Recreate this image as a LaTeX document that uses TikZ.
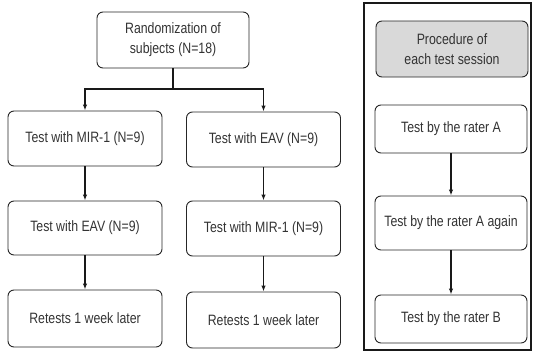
\documentclass[tikz,border=0pt]{standalone}
\usepackage{fontspec}
\setmainfont[FakeStretch=0.82]{Liberation Sans}
\usetikzlibrary{arrows.meta}
\begin{document}
\begin{tikzpicture}[x=1pt,y=-1pt,
  box/.style={draw=black!85,line width=0.9pt,rounded corners=6pt,minimum width=154pt,
    align=center,font=\fontsize{15}{20}\selectfont,text=black!80,inner sep=2pt},
  pbox/.style={box,minimum width=152pt},
  conn/.style={line width=1.8pt,black!90},
  arr/.style={conn,-{Latex[length=6pt,width=4.5pt]}},
  frame/.style={line width=1.6pt,black!90}]
\useasboundingbox (0,0) rectangle (533,359);
% left flow
\node[box,minimum width=152pt,minimum height=56pt] (top) at (173,40) {Randomization of\\subjects (N=18)};
\node[box,minimum height=55pt] (l1) at (85,138.5) {Test with MIR-1 (N=9)};
\node[box,minimum height=54pt] (l2) at (85,228) {Test with EAV (N=9)};
\node[box,minimum height=57pt] (l3) at (85,318.5) {Retests 1 week later};
\node[box,minimum height=55pt] (r1) at (263.5,139.5) {Test with EAV (N=9)};
\node[box,minimum height=55pt] (r2) at (263.5,228.5) {Test with MIR-1 (N=9)};
\node[box,minimum height=56pt] (r3) at (263.5,320) {Retests 1 week later};
\coordinate (j) at (173,89);
\draw[conn] (top.south) -- (j);
\draw[arr] (j) -| (l1.north);
\draw[arr] (j) -| (r1.north);
\draw[arr] (l1) -- (l2);
\draw[arr] (l2) -- (l3);
\draw[arr] (r1) -- (r2);
\draw[arr] (r2) -- (r3);
% right panel
\draw[frame] (364,3) rectangle (531,350);
\node[pbox,fill=gray!30,minimum height=56pt] (proc) at (452,49) {Procedure of\\each test session};
\node[pbox,minimum height=48pt] (pa) at (451,129) {Test by the rater A};
\node[pbox,minimum height=54pt] (pb) at (451,223) {Test by the rater A again};
\node[pbox,minimum height=48pt] (pc) at (451,319) {Test by the rater B};
\draw[arr,line width=1.2pt] (pa) -- (pb);
\draw[arr,line width=1.2pt] (pb) -- (pc);
\end{tikzpicture}
\end{document}
